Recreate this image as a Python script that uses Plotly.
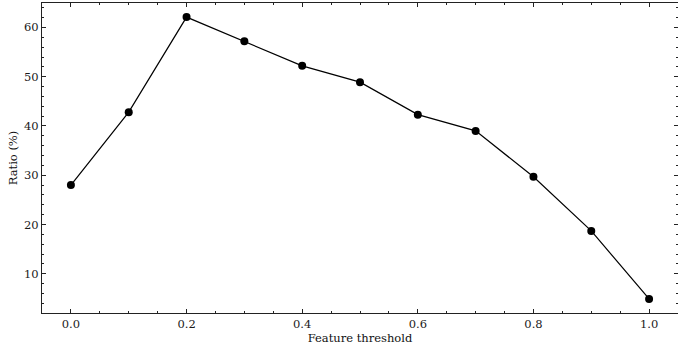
import plotly.graph_objects as go

thresholds = [0.0, 0.1, 0.2, 0.3, 0.4, 0.5, 0.6, 0.7, 0.8, 0.9, 1.0]
ratio = [28.0, 42.8, 62.1, 57.2, 52.2, 48.9, 42.3, 39.0, 29.7, 18.7, 4.9]

x_ticks = [0.0, 0.2, 0.4, 0.6, 0.8, 1.0]
x_ticklabels = ["0.0", "0.2", "0.4", "0.6", "0.8", "1.0"]
y_ticks = [10, 20, 30, 40, 50, 60]

font = "DejaVu Serif"
fs = 11.5

fig = go.Figure()
fig.add_trace(go.Scatter(
    x=thresholds, y=ratio, mode="lines+markers",
    line=dict(color="black", width=1.2),
    marker=dict(color="black", size=8),
    showlegend=False,
))

axis_common = dict(
    showgrid=False, zeroline=False, showline=True, linecolor="#222",
    linewidth=1, mirror="allticks", ticks="inside", ticklen=4,
    tickwidth=0.8, tickcolor="#222", automargin=False,
    tickfont=dict(family=font, size=fs, color="#1a1a1a"),
)

fig.update_xaxes(
    range=[-0.05, 1.05], tickvals=x_ticks, ticktext=x_ticklabels,
    title=dict(text="Feature threshold", font=dict(family=font, size=fs, color="#111"), standoff=2),
    minor=dict(dtick=0.05, tick0=0, ticks="inside", ticklen=2, tickcolor="#222", tickwidth=0.8),
    **axis_common,
)
fig.update_yaxes(
    range=[2.04, 64.96], tickvals=y_ticks,
    title=dict(text="Ratio (%)", font=dict(family=font, size=fs, color="#111"), standoff=4),
    minor=dict(dtick=2, tick0=0, ticks="inside", ticklen=2, tickcolor="#222", tickwidth=0.8),
    **axis_common,
)

fig.update_layout(
    width=678, height=353,
    margin=dict(l=42, r=0, t=3, b=40),
    plot_bgcolor="white", paper_bgcolor="white",
    font=dict(family=font, size=fs),
)

fig.write_html(
    "out.html",
    config={"displayModeBar": False},
    post_script="document.body.style.margin='0';document.body.style.overflow='hidden';",
)
